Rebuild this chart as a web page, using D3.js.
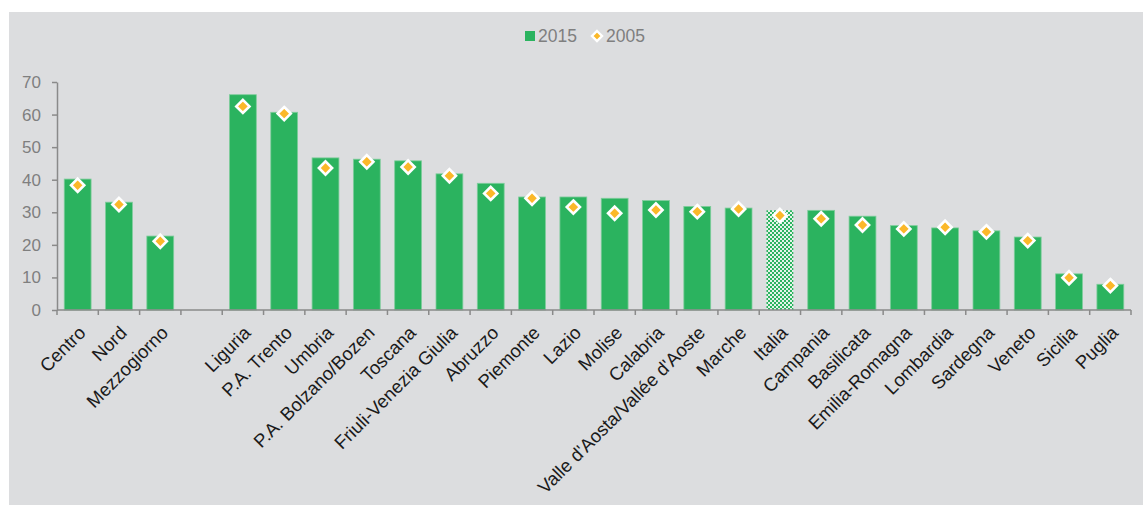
<!DOCTYPE html>
<html>
<head>
<meta charset="utf-8">
<script src="https://cdn.jsdelivr.net/npm/d3@7"></script>
<style>
  html, body { margin: 0; padding: 0; background: #ffffff; }
  svg { display: block; font-family: "Liberation Sans", Arial, sans-serif; }
</style>
</head>
<body>
<svg id="chart" width="1146" height="505"></svg>
<script>
const categories = ["Centro","Nord","Mezzogiorno","","Liguria","P.A. Trento","Umbria","P.A. Bolzano/Bozen","Toscana","Friuli-Venezia Giulia","Abruzzo","Piemonte","Lazio","Molise","Calabria","Valle d'Aosta/Vallée d'Aoste","Marche","Italia","Campania","Basilicata","Emilia-Romagna","Lombardia","Sardegna","Veneto","Sicilia","Puglia"];
const values2015 = [40.2, 33.1, 22.7, null, 66.1, 60.7, 46.7, 46.3, 45.8, 41.8, 38.9, 34.7, 34.7, 34.3, 33.6, 31.8, 31.3, 30.6, 30.6, 28.8, 25.9, 25.2, 24.3, 22.4, 11.1, 7.9];
const values2005 = [38.3, 32.4, 21.1, null, 62.5, 60.3, 43.6, 45.5, 43.9, 41.2, 35.8, 34.3, 31.6, 29.7, 30.7, 30.2, 31.0, 29.0, 28.0, 26.1, 24.9, 25.4, 24.0, 21.3, 9.9, 7.5];
const yTicks = [0, 10, 20, 30, 40, 50, 60, 70];
const seriesNames = ["2015", "2005"];
const highlight = "Italia";

const svg = d3.select("#chart");
const plot = {left: 57, right: 1131, top: 82, bottom: 310};

svg.append("rect").attr("x", 9).attr("y", 12).attr("width", 1134).attr("height", 493).attr("fill", "#dcdddf");

const defs = svg.append("defs");
const pat = defs.append("pattern").attr("id", "checker").attr("patternUnits", "userSpaceOnUse")
  .attr("width", 4).attr("height", 4);
pat.append("rect").attr("width", 4).attr("height", 4).attr("fill", "#e4f3e9");
pat.append("rect").attr("x", 0).attr("y", 0).attr("width", 2).attr("height", 2).attr("fill", "#2bb35f");
pat.append("rect").attr("x", 2).attr("y", 2).attr("width", 2).attr("height", 2).attr("fill", "#2bb35f");

const keys = categories.map((c, i) => i);
const x = d3.scaleBand().domain(keys).range([plot.left, plot.right]).paddingInner(0.35).paddingOuter(0.175);
const y = d3.scaleLinear().domain([0, 70]).range([plot.bottom, plot.top]);
const step = x.step();

// y axis
const yAxis = svg.append("g").attr("transform", `translate(${plot.left},0)`)
  .call(d3.axisLeft(y).tickValues(yTicks).tickSize(5).tickPadding(11).tickSizeOuter(0));
yAxis.select(".domain").attr("stroke", "#8a8a8a").attr("stroke-width", 1.5);
yAxis.selectAll(".tick line").attr("stroke", "#8a8a8a").attr("stroke-width", 1.5);
yAxis.selectAll(".tick text").attr("fill", "#7f7f7f").attr("font-size", 17).attr("font-family", "Liberation Sans, Arial, sans-serif");

// bars
const data = categories.map((c, i) => ({c, i, v15: values2015[i], v05: values2005[i]}));
svg.append("g").selectAll("rect").data(data.filter(d => d.v15 != null)).join("rect")
  .attr("x", d => x(d.i)).attr("width", x.bandwidth())
  .attr("y", d => y(d.v15)).attr("height", d => y(0) - y(d.v15))
  .attr("fill", d => d.c === highlight ? "url(#checker)" : "#2bb35f")
  .attr("stroke", d => d.c === highlight ? "none" : "#7fcd9c").attr("stroke-width", 0.8);

// x axis
const xg = svg.append("g");
xg.append("line").attr("x1", plot.left).attr("x2", plot.right).attr("y1", y(0)).attr("y2", y(0))
  .attr("stroke", "#8a8a8a").attr("stroke-width", 1.5);
xg.selectAll("line.t").data(d3.range(categories.length + 1)).join("line").attr("class", "t")
  .attr("x1", i => plot.left + i * step).attr("x2", i => plot.left + i * step)
  .attr("y1", y(0)).attr("y2", y(0) + 5).attr("stroke", "#8a8a8a").attr("stroke-width", 1.5);
xg.selectAll("text").data(data.filter(d => d.c !== "")).join("text")
  .attr("transform", d => `translate(${x(d.i) + x.bandwidth() / 2 + 9},${y(0) + 24}) rotate(-45)`)
  .attr("text-anchor", "end").attr("font-size", 18.5).attr("fill", "#1a1a1a")
  .text(d => d.c);

// diamonds
const diamond = (cx, cy, r) => `M${cx},${cy - r}L${cx + r},${cy}L${cx},${cy + r}L${cx - r},${cy}Z`;
svg.append("g").selectAll("path").data(data.filter(d => d.v05 != null)).join("path")
  .attr("d", d => diamond(x(d.i) + x.bandwidth() / 2, y(d.v05), 6.6))
  .attr("fill", "#fbb829").attr("stroke", "#ffffff").attr("stroke-width", 2.6).attr("stroke-linejoin", "miter");

// legend
const lg = svg.append("g");
lg.append("rect").attr("x", 525).attr("y", 31).attr("width", 10).attr("height", 10).attr("fill", "#2bb35f");
lg.append("text").attr("x", 538).attr("y", 42).attr("font-size", 17.5).attr("fill", "#7f7f7f").text(seriesNames[0]);
lg.append("path").attr("d", diamond(597, 36, 5)).attr("fill", "#fbb829").attr("stroke", "#ffffff").attr("stroke-width", 2.4);
lg.append("text").attr("x", 606).attr("y", 42).attr("font-size", 17.5).attr("fill", "#7f7f7f").text(seriesNames[1]);
</script>
</body>
</html>
